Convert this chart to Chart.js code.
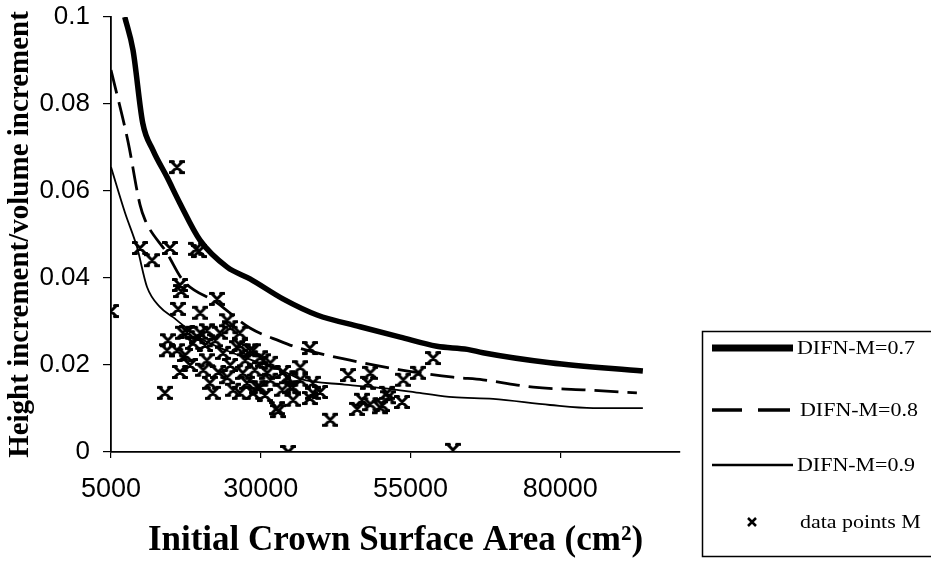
<!DOCTYPE html>
<html>
<head>
<meta charset="utf-8">
<script src="https://cdn.jsdelivr.net/npm/chart.js@4/dist/chart.umd.min.js"></script>
<style>
  html, body { margin: 0; padding: 0; background: #fff; }
  #wrap { width: 931px; height: 564px; }
</style>
</head>
<body>
<div id="wrap"><canvas id="myChart" width="931" height="564"></canvas></div>
<script>
// tick positions / labels
const xTicks = [5000, 30000, 55000, 80000];
const xTickLabels = ['5000', '30000', '55000', '80000'];
const yTicks = [0, 0.02, 0.04, 0.06, 0.08, 0.1];
const yTickLabels = ['0', '0.02', '0.04', '0.06', '0.08', '0.1'];

// model curves
const curve07X = [7300, 8670, 10300, 12000, 14350, 16500, 19850, 24400, 28200, 33700, 39400, 46600, 53300, 59400, 64500, 67100, 78300, 93800];
const curve07Y = [0.1, 0.0924, 0.0756, 0.0694, 0.0632, 0.0572, 0.0487, 0.0425, 0.0398, 0.0352, 0.0315, 0.0288, 0.0264, 0.0243, 0.0236, 0.0228, 0.0205, 0.0186];

const curve08X = [5000, 7850, 9850, 10700, 14350, 17000, 22700, 28200, 33200, 36600, 44900, 53300, 62100, 67100, 75500, 83800, 92800];
const curve08Y = [0.0878, 0.0713, 0.0568, 0.0533, 0.0457, 0.0395, 0.0343, 0.0285, 0.0255, 0.0238, 0.0211, 0.0189, 0.0172, 0.0166, 0.0149, 0.0143, 0.0136];

const curve09X = [5000, 7340, 9340, 11000, 13200, 15350, 19850, 24000, 28200, 33700, 36600, 44000, 50400, 57000, 62100, 68800, 78300, 85500, 93800];
const curve09Y = [0.0655, 0.055, 0.0471, 0.038, 0.0333, 0.031, 0.0262, 0.0235, 0.0213, 0.0186, 0.0168, 0.0155, 0.0147, 0.0135, 0.0126, 0.0122, 0.0108, 0.0101, 0.0101];

// observed data points M
const pointsX = [5000, 16000, 9850, 11850, 14850, 19200, 19700, 16500, 16700, 16200, 19900, 22700, 14500, 14350, 16000, 16500, 14000, 17700, 19400, 19900,
  18700, 21000, 21000, 20400, 22000, 21500, 23200, 24900, 24400, 26500, 26000, 23700, 24400, 25400, 27700, 28700, 30400, 28700, 31100, 32900,
  34600, 34400, 35400, 36600, 38200, 38700, 41600, 44600, 48300, 47900, 46900, 48300, 49900, 46100, 51300, 53600, 53800, 56300, 58800, 62100,
  28200, 27000, 26500, 29400, 31600, 32700, 29900, 31600, 33700, 29900, 34900, 35400, 38200, 39900, 38700, 17000, 22400, 20700, 17400, 18200,
  27400, 29000, 30700, 33600, 36600, 26500, 24900, 22900, 51100, 50300];
const pointsY = [0.0324, 0.0655, 0.0469, 0.0441, 0.0469, 0.0467, 0.0462, 0.0384, 0.037, 0.0329, 0.032, 0.0352, 0.0257, 0.0234, 0.0234, 0.0184, 0.0136, 0.0276, 0.0264, 0.0274,
  0.0251, 0.028, 0.0211, 0.0189, 0.0136, 0.0159, 0.0274, 0.0287, 0.0303, 0.0274, 0.0241, 0.0228, 0.0172, 0.0143, 0.0159, 0.0136, 0.0211, 0.0234, 0.0182, 0.0094,
  0.0, 0.0172, 0.0149, 0.0195, 0.0239, 0.0136, 0.0074, 0.0177, 0.0182, 0.0159, 0.012, 0.011, 0.0103, 0.0099, 0.0126, 0.0115, 0.0166, 0.0182, 0.0216, 0.0005,
  0.0234, 0.0182, 0.0136, 0.0149, 0.0166, 0.0101, 0.0218, 0.0205, 0.0184, 0.0149, 0.0149, 0.012, 0.0124, 0.0138, 0.0159, 0.0274, 0.0257, 0.0246, 0.0223, 0.02,
  0.0211, 0.0189, 0.0131, 0.0143, 0.0166, 0.0246, 0.02, 0.0184, 0.0136, 0.0108];

const labels = ['DIFN-M=0.7', 'DIFN-M=0.8', 'DIFN-M=0.9', 'data points M'];

function toXY(xs, ys) {
  return xs.map((x, i) => ({ x: x, y: ys[i] }));
}

// x-marker with little flat ends, like the printed one
function makeMarker(size) {
  const c = document.createElement('canvas');
  c.width = size; c.height = size;
  const g = c.getContext('2d');
  const a = 3, b = size - 3;
  g.strokeStyle = '#000';
  g.lineWidth = 3;
  g.lineCap = 'round';
  g.beginPath();
  g.moveTo(a, a); g.lineTo(b, b);
  g.moveTo(b, a); g.lineTo(a, b);
  g.moveTo(a - 2, a - 0.5); g.lineTo(a + 1.5, a - 0.5);
  g.moveTo(b - 1.5, a - 0.5); g.lineTo(b + 2, a - 0.5);
  g.moveTo(a - 2, b + 0.5); g.lineTo(a + 1.5, b + 0.5);
  g.moveTo(b - 1.5, b + 0.5); g.lineTo(b + 2, b + 0.5);
  g.stroke();
  return c;
}
const marker = makeMarker(16);

// legend drawn by hand, boxed at bottom right
const boxLegend = {
  id: 'boxLegend',
  afterDraw(chart) {
    const ctx = chart.ctx;
    ctx.save();
    ctx.strokeStyle = '#000';
    ctx.lineWidth = 1.5;
    ctx.strokeRect(702.5, 331.5, 240, 225);

    const rows = [348, 410, 465, 522];
    const ds = chart.data.datasets;
    for (let i = 0; i < 3; i++) {
      ctx.beginPath();
      ctx.lineWidth = ds[i].borderWidth + (i === 0 ? 1.5 : 0.5);
      ctx.lineCap = 'butt';
      if (i === 1) {
        ctx.moveTo(712, rows[i]); ctx.lineTo(742, rows[i]);
        ctx.moveTo(758, rows[i]); ctx.lineTo(790, rows[i]);
      } else {
        ctx.moveTo(712, rows[i]); ctx.lineTo(793, rows[i]);
      }
      ctx.stroke();
    }
    // small x for the data points row
    ctx.beginPath();
    ctx.lineWidth = 2.5;
    ctx.moveTo(748, rows[3] - 4); ctx.lineTo(756, rows[3] + 4);
    ctx.moveTo(756, rows[3] - 4); ctx.lineTo(748, rows[3] + 4);
    ctx.stroke();

    ctx.fillStyle = '#000';
    ctx.font = '18px "Liberation Serif", "Times New Roman", serif';
    ctx.textBaseline = 'middle';
    const textX = [797, 800, 797, 800];
    for (let i = 0; i < 4; i++) {
      ctx.save();
      ctx.translate(textX[i], rows[i] + 1);
      ctx.scale(1.22, 1);
      ctx.fillText(labels[i], 0, 0);
      ctx.restore();
    }
    ctx.restore();
  }
};

const ctx = document.getElementById('myChart').getContext('2d');
const myChart = new Chart(ctx, {
  type: 'scatter',
  data: {
    datasets: [
      {
        label: labels[0],
        data: toXY(curve07X, curve07Y),
        showLine: true,
        borderColor: '#000',
        borderWidth: 5.5,
        pointRadius: 0,
        cubicInterpolationMode: 'monotone'
      },
      {
        label: labels[1],
        data: toXY(curve08X, curve08Y),
        showLine: true,
        borderColor: '#000',
        borderWidth: 2.8,
        borderDash: [24, 9],
        pointRadius: 0,
        cubicInterpolationMode: 'monotone'
      },
      {
        label: labels[2],
        data: toXY(curve09X, curve09Y),
        showLine: true,
        borderColor: '#000',
        borderWidth: 1.8,
        pointRadius: 0,
        cubicInterpolationMode: 'monotone'
      },
      {
        label: labels[3],
        data: toXY(pointsX, pointsY),
        showLine: false,
        pointStyle: marker,
        pointRadius: 8,
        borderColor: '#000',
        backgroundColor: '#000'
      }
    ]
  },
  options: {
    responsive: false,
    animation: false,
    events: [],
    layout: {
      padding: { left: 0, top: 17, right: 251, bottom: 0 }
    },
    plugins: {
      legend: { display: false },
      tooltip: { enabled: false }
    },
    scales: {
      x: {
        type: 'linear',
        min: 5000,
        max: 100000,
        afterBuildTicks: (scale) => { scale.ticks = xTicks.map(v => ({ value: v })); },
        afterFit: (scale) => { scale.height = 112; scale.paddingLeft = 0; scale.paddingRight = 0; },
        grid: { drawOnChartArea: false, drawTicks: true, tickLength: 6, color: '#000', lineWidth: 1.2 },
        border: { color: '#000', width: 1.8 },
        ticks: {
          color: '#000',
          padding: 15,
          maxRotation: 0,
          callback: (v, i) => xTickLabels[i],
          font: { family: '"Liberation Sans", Arial, sans-serif', size: 27 }
        },
        title: {
          display: true,
          text: 'Initial Crown Surface Area (cm²)',
          color: '#000',
          padding: { top: 0, bottom: 2 },
          font: { family: '"Liberation Serif", "Times New Roman", serif', size: 35, weight: 'bold' }
        }
      },
      y: {
        type: 'linear',
        min: 0,
        max: 0.1,
        afterBuildTicks: (scale) => { scale.ticks = yTicks.map(v => ({ value: v })); },
        afterFit: (scale) => { scale.width = 111; scale.paddingTop = 0; scale.paddingBottom = 0; },
        grid: { drawOnChartArea: false, drawTicks: true, tickLength: 8, color: '#000', lineWidth: 1.2 },
        border: { color: '#000', width: 1.8 },
        ticks: {
          color: '#000',
          padding: 13,
          callback: (v, i) => yTickLabels[i],
          font: { family: '"Liberation Sans", Arial, sans-serif', size: 26 }
        },
        title: {
          display: true,
          text: 'Height increment/volume increment',
          color: '#000',
          padding: { top: 3, bottom: 0 },
          font: { family: '"Liberation Serif", "Times New Roman", serif', size: 29, weight: 'bold' }
        }
      }
    }
  },
  plugins: [boxLegend]
});
</script>
</body>
</html>
